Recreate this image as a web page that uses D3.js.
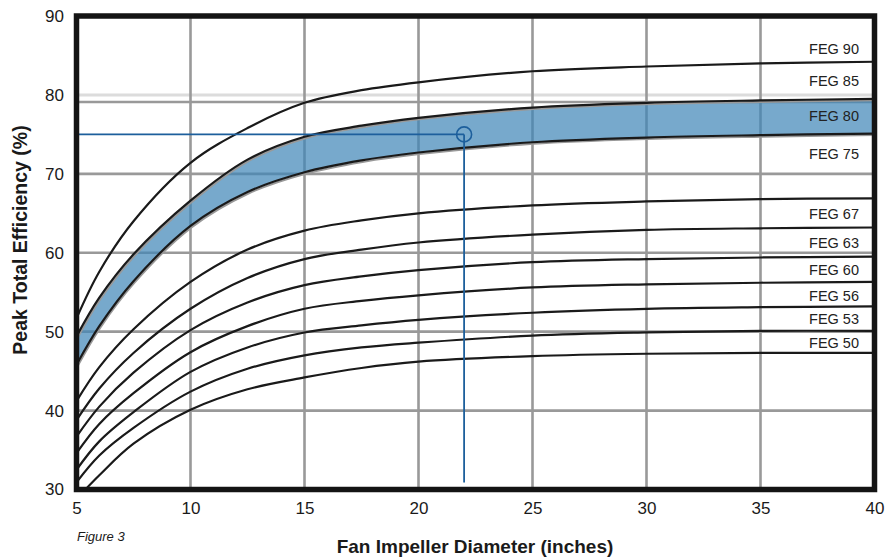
<!DOCTYPE html>
<html>
<head>
<meta charset="utf-8">
<script src="https://cdn.jsdelivr.net/npm/d3@7"></script>
<style>
    body { margin: 0; background: #fff; }
    svg { display: block; font-family: "Liberation Sans", Arial, Helvetica, sans-serif; }
</style>
</head>
<body>
<div id="chart"></div>
<script>
/*
    FEG curves - peak total efficiency vs fan impeller diameter
*/

// values (each curve is the lower bound of its FEG grade)
let diameters = [5, 6, 7.5, 10, 12.5, 15, 17.5, 20, 25, 30, 35, 40];
let feg90 = [51.7, 57.6, 64.0, 71.4, 75.8, 79.0, 80.6, 81.6, 83.0, 83.6, 84.0, 84.2];
let feg85 = [49.4, 54.3, 59.8, 66.6, 71.8, 74.7, 76.1, 77.1, 78.4, 79.0, 79.3, 79.5];
let feg80 = [45.8, 50.7, 56.4, 63.4, 67.7, 70.2, 71.7, 72.7, 74.0, 74.6, 74.9, 75.1];
let feg75 = [41.2, 45.5, 50.3, 56.3, 60.4, 62.8, 64.1, 65.0, 66.0, 66.5, 66.8, 66.9];
let feg67 = [38.8, 42.8, 47.3, 52.9, 56.8, 59.2, 60.4, 61.3, 62.3, 62.9, 63.1, 63.2];
let feg63 = [36.7, 40.5, 44.8, 50.2, 53.7, 55.9, 57.0, 57.8, 58.8, 59.2, 59.4, 59.5];
let feg60 = [34.6, 38.3, 42.2, 47.4, 50.7, 52.9, 53.9, 54.6, 55.6, 56.0, 56.2, 56.3];
let feg56 = [32.5, 36.1, 39.8, 44.9, 48.0, 49.9, 50.8, 51.5, 52.4, 52.9, 53.1, 53.2];
let feg53 = [30.9, 34.3, 37.8, 42.4, 45.3, 47.0, 48.0, 48.6, 49.5, 49.9, 50.1, 50.1];
let feg50 = [28.8, 31.8, 35.8, 40.1, 42.7, 44.2, 45.4, 46.2, 46.9, 47.2, 47.3, 47.3];

let fegLabels = ["FEG 90", "FEG 85", "FEG 80", "FEG 75", "FEG 67", "FEG 63", "FEG 60", "FEG 56", "FEG 53", "FEG 50"];
let fegLabelValues = [85.9, 81.8, 77.3, 72.5, 65.0, 61.3, 57.9, 54.6, 51.6, 48.6];

let xTicks = [5, 10, 15, 20, 25, 30, 35, 40];
let yTicks = [30, 40, 50, 60, 70, 80, 90];
let yGrid = [40, 50, 60, 70, 79.1];

// example point: 22 inch fan at 75 %
let pickDiameter = 22;
let pickEfficiency = 75;
let pickLineEnd = 30.9;


FegChart = function(_parentElement) {
    this.parentElement = _parentElement;
    this.initVis();
}

FegChart.prototype.initVis = function() {
    let vis = this;
    vis.width = 894;
    vis.height = 557;
    vis.svg = d3.select("#" + vis.parentElement)
        .append("svg")
        .attr("width", vis.width)
        .attr("height", vis.height);

    vis.x = d3.scaleLinear().domain([5, 40]).range([76.5, 874.5]);
    vis.y = d3.scaleLinear().domain([30, 90]).range([489.5, 16]);

    vis.svg.append("clipPath").attr("id", "plot-clip")
        .append("rect")
        .attr("x", vis.x(5)).attr("y", vis.y(90))
        .attr("width", vis.x(40) - vis.x(5))
        .attr("height", vis.y(30) - vis.y(90));

    vis.wrangleData();
};

FegChart.prototype.wrangleData = function() {
    let vis = this;
    let pair = arr => arr.map((v, i) => ({ d: diameters[i], v: v }));
    vis.curves = [feg90, feg85, feg80, feg75, feg67, feg63, feg60, feg56, feg53, feg50].map(pair);
    vis.band = diameters.map((d, i) => ({ d: d, hi: feg85[i], lo: feg80[i] }));
    vis.updateVis();
};

FegChart.prototype.updateVis = function() {
    let vis = this;
    let x = vis.x, y = vis.y;
    let smooth = d3.curveCatmullRom.alpha(0.5);

    // grid
    let grid = vis.svg.append("g");
    grid.append("line")
        .attr("x1", x(5)).attr("x2", x(40))
        .attr("y1", y(80)).attr("y2", y(80))
        .attr("stroke", "#dcdcdc").attr("stroke-width", 3);
    grid.selectAll(".gy").data(yGrid).enter().append("line")
        .attr("x1", x(5)).attr("x2", x(40))
        .attr("y1", d => y(d)).attr("y2", d => y(d))
        .attr("stroke", "#999").attr("stroke-width", 2.6);
    grid.selectAll(".gx").data(xTicks.slice(1, -1)).enter().append("line")
        .attr("x1", d => x(d)).attr("x2", d => x(d))
        .attr("y1", y(30)).attr("y2", y(90))
        .attr("stroke", "#999").attr("stroke-width", 2.6);

    let plot = vis.svg.append("g").attr("clip-path", "url(#plot-clip)");

    // FEG 80 band
    let area = d3.area()
        .x(d => x(d.d)).y0(d => y(d.lo)).y1(d => y(d.hi))
        .curve(smooth);
    plot.append("path").datum(vis.band)
        .attr("d", area)
        .attr("fill", "rgb(61,132,182)")
        .attr("fill-opacity", 0.7);

    let line = d3.line()
        .x(d => x(d.d)).y(d => y(d.v))
        .curve(smooth);

    // soft shadow under the band edges
    plot.selectAll(".shadow").data([vis.curves[1], vis.curves[2]]).enter().append("path")
        .attr("d", line)
        .attr("transform", "translate(1,1.5)")
        .attr("fill", "none")
        .attr("stroke", "#999")
        .attr("stroke-width", 2);

    plot.selectAll(".curve").data(vis.curves).enter().append("path")
        .attr("d", line)
        .attr("fill", "none")
        .attr("stroke", "#1a1a1a")
        .attr("stroke-width", 2.2);

    // selection lines
    let blue = "#1d5f9c";
    plot.append("line")
        .attr("x1", x(5)).attr("x2", x(pickDiameter))
        .attr("y1", y(pickEfficiency)).attr("y2", y(pickEfficiency))
        .attr("stroke", blue).attr("stroke-width", 1.8);
    plot.append("line")
        .attr("x1", x(pickDiameter)).attr("x2", x(pickDiameter))
        .attr("y1", y(pickEfficiency)).attr("y2", y(pickLineEnd))
        .attr("stroke", blue).attr("stroke-width", 1.8);
    plot.append("circle")
        .attr("cx", x(pickDiameter)).attr("cy", y(pickEfficiency))
        .attr("r", 7.5)
        .attr("fill", "none").attr("stroke", blue).attr("stroke-width", 1.6);

    // FEG labels
    vis.svg.selectAll(".feg").data(fegLabels).enter().append("text")
        .attr("x", 859)
        .attr("y", (d, i) => y(fegLabelValues[i]))
        .attr("dy", "0.36em")
        .attr("text-anchor", "end")
        .attr("font-size", 14.5)
        .attr("fill", "#222")
        .text(d => d);

    // frame
    vis.svg.append("rect")
        .attr("x", x(5)).attr("y", y(90))
        .attr("width", x(40) - x(5))
        .attr("height", y(30) - y(90))
        .attr("fill", "none")
        .attr("stroke", "#141414")
        .attr("stroke-width", 5.5);

    // axes
    let xAxis = d3.axisBottom(x).tickValues(xTicks).tickSize(0).tickPadding(0);
    let yAxis = d3.axisLeft(y).tickValues(yTicks).tickSize(0).tickPadding(0);

    let gx = vis.svg.append("g")
        .attr("transform", "translate(0," + 500 + ")")
        .call(xAxis);
    let gy = vis.svg.append("g")
        .attr("transform", "translate(" + 64 + ",0)")
        .call(yAxis);
    [gx, gy].forEach(g => {
        g.select(".domain").remove();
        g.selectAll("text")
            .attr("font-size", 17)
            .attr("font-family", "\"Liberation Sans\", Arial, sans-serif")
            .attr("fill", "#1a1a1a");
    });
    gx.selectAll("text").attr("dy", "0.71em").attr("y", 2);

    vis.svg.append("text")
        .attr("x", 475).attr("y", 553)
        .attr("text-anchor", "middle")
        .attr("font-size", 19)
        .attr("font-weight", "bold")
        .attr("fill", "#1a1a1a")
        .text("Fan Impeller Diameter (inches)");

    vis.svg.append("text")
        .attr("transform", "translate(27,240) rotate(-90)")
        .attr("text-anchor", "middle")
        .attr("font-size", 19.5)
        .attr("font-weight", "bold")
        .attr("fill", "#1a1a1a")
        .text("Peak Total Efficiency (%)");

    vis.svg.append("text")
        .attr("x", 77).attr("y", 541)
        .attr("font-size", 13)
        .attr("font-style", "italic")
        .attr("fill", "#1a1a1a")
        .text("Figure 3");
};

let chart = new FegChart("chart");
</script>
</body>
</html>
